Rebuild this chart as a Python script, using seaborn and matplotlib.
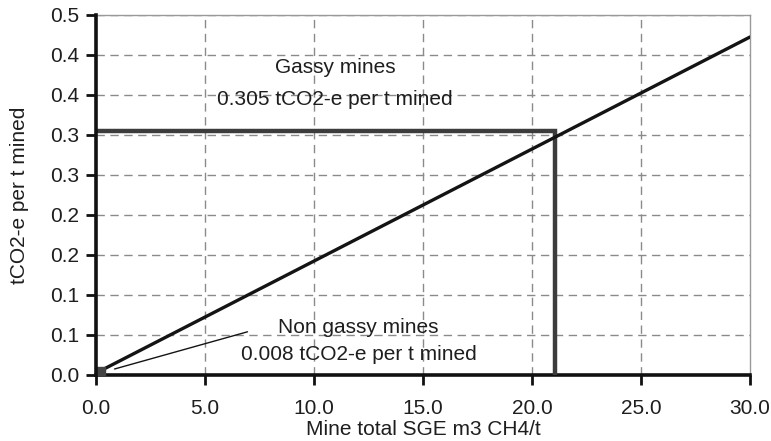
import matplotlib
matplotlib.use("Agg")
import matplotlib.pyplot as plt
import seaborn as sns
import pandas as pd
import numpy as np

# ---- data ----
emission_x = [0.4, 30.0]          # Mine total SGE m3 CH4/t
emission_y = [0.008, 0.4225]      # tCO2-e per t mined
threshold_x = [0.0, 21.05, 21.05]
threshold_y = [0.305, 0.305, 0.0]
nongassy_x = [0.2]
nongassy_y = [0.004]
leader_x = [0.85, 6.95]
leader_y = [0.0075, 0.054]
x_ticks = [0, 5, 10, 15, 20, 25, 30]
x_ticklabels = ["0.0", "5.0", "10.0", "15.0", "20.0", "25.0", "30.0"]
y_ticks = [0.0, 0.05, 0.10, 0.15, 0.20, 0.25, 0.30, 0.35, 0.40, 0.45]
y_ticklabels = ["0.0", "0.1", "0.1", "0.2", "0.2", "0.3", "0.3", "0.4", "0.4", "0.5"]
gassy_label = ["Gassy mines", "0.305 tCO2-e per t mined"]
nongassy_label = ["Non gassy mines", "0.008 tCO2-e per t mined"]
x_label = "Mine total SGE m3 CH4/t"
y_label = "tCO2-e per t mined"

sns.set_style("white")
plt.rcParams["font.family"] = ["Liberation Sans", "DejaVu Sans"]
FS = 15
TXT = "#1e1e1e"

fig = plt.figure(figsize=(7.71, 4.41), dpi=100)
ax = fig.add_axes([96 / 771, (441 - 375) / 441, 654 / 771, 360 / 441])

# grid
for xv in x_ticks[1:-1]:
    ax.axvline(xv, color="#8a8a8a", lw=1.0, ls=(0, (6, 4)), zorder=1)
for yv in y_ticks[1:]:
    ax.axhline(yv, color="#8a8a8a", lw=1.0, ls=(0, (6, 4)), zorder=1)

df_em = pd.DataFrame({"x": emission_x, "y": emission_y})
df_th = pd.DataFrame({"x": threshold_x, "y": threshold_y})
df_lead = pd.DataFrame({"x": leader_x, "y": leader_y})

sns.lineplot(data=df_th, x="x", y="y", sort=False, estimator=None, ax=ax,
             color="#3c3c3c", lw=3.2, zorder=3, solid_joinstyle="miter")
sns.lineplot(data=df_em, x="x", y="y", estimator=None, ax=ax, color="#141414",
             lw=2.4, zorder=4)
sns.lineplot(data=df_lead, x="x", y="y", estimator=None, ax=ax, color="#141414",
             lw=1.0, zorder=4)
ax.plot(nongassy_x, nongassy_y, marker="s", ms=7, color="#444444", ls="none", zorder=5)

ax.set_xlim(0, 30)
ax.set_ylim(0, 0.45)
ax.set_xticks(x_ticks)
ax.set_xticklabels(x_ticklabels)
ax.set_yticks(y_ticks)
ax.set_yticklabels(y_ticklabels)
ax.tick_params(axis="both", direction="out", length=7, width=2, color="#111111",
               labelsize=FS, labelcolor=TXT)
ax.tick_params(axis="x", pad=10, bottom=True)
ax.tick_params(axis="y", pad=5, left=True)

ax.set_xlabel(x_label, fontsize=FS, color=TXT, labelpad=2)
ax.set_ylabel(y_label, fontsize=FS, color=TXT, labelpad=15)

for side in ["left", "bottom"]:
    ax.spines[side].set_color("#111111")
    ax.spines[side].set_linewidth(2.6)
ax.spines["top"].set_color("#999999")
ax.spines["top"].set_linewidth(1.0)
ax.spines["top"].set_linestyle((0, (1, 1)))
ax.spines["right"].set_color("#999999")
ax.spines["right"].set_linewidth(1.0)
ax.spines["left"].set_zorder(6)

ax.text(10.96, 0.3775, gassy_label[0], ha="center", va="baseline", fontsize=FS, color=TXT)
ax.text(10.96, 0.3375, gassy_label[1], ha="center", va="baseline", fontsize=FS, color=TXT)
ax.text(12.05, 0.0525, nongassy_label[0], ha="center", va="baseline", fontsize=FS, color=TXT)
ax.text(12.05, 0.01875, nongassy_label[1], ha="center", va="baseline", fontsize=FS, color=TXT)

fig.savefig("out.png", dpi=100)
